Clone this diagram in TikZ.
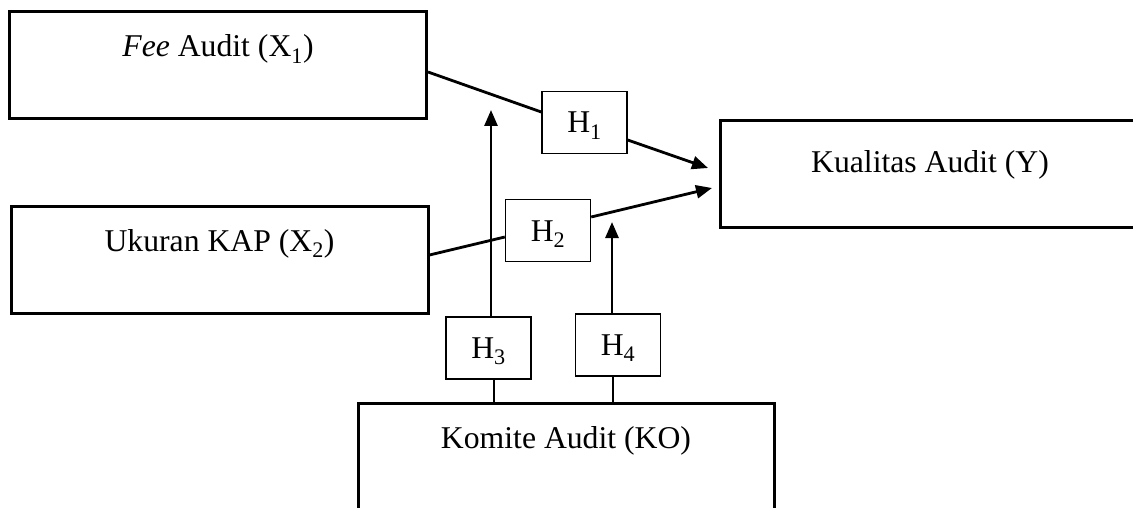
\documentclass[tikz,border=0pt]{standalone}
\usepackage{fontspec}
\setmainfont{Liberation Serif}
\usetikzlibrary{arrows.meta,positioning}

\begin{document}
\begin{tikzpicture}[x=1pt, y=-1pt, font=\fontsize{31.7}{38}\selectfont]

   \tikzstyle{var}=[rectangle, draw, line width=3pt, inner xsep=0pt, inner ysep=0pt, text height=45pt]
   \tikzstyle{hyp}=[rectangle, draw, line width=1.4pt, minimum width=85pt, minimum height=62pt, text height=21pt, text depth=0pt]
   \tikzstyle{link}=[line width=2.8pt]
   \tikzstyle{arr}=[line width=2.8pt, -{Triangle[length=16pt,width=13pt]}]

   \clip (0,0) rectangle (1133,508);

   \node[var, minimum width=417pt, minimum height=107pt, text depth=62pt] (fee) at (218,65.5) {\textit{Fee} Audit (X\textsubscript{1})};
   \node[var, minimum width=417pt, minimum height=107pt, text depth=62pt] (kap) at (219.5,259.5) {Ukuran KAP (X\textsubscript{2})};
   \node[var, minimum width=420pt, minimum height=106pt, text height=51pt, text depth=55pt] (kual) at (930,174) {Kualitas Audit (Y)};
   \node[var, minimum width=416pt, minimum height=115pt, text depth=70pt] (ko) at (566,460.5) {Komite Audit (KO)};

   \node[hyp] (h1) at (584.5,122.5) {H\textsubscript{1}};
   \node[hyp] (h2) at (548,230.5) {H\textsubscript{2}};
   \node[hyp] (h3) at (488.5,348) {H\textsubscript{3}};
   \node[hyp] (h4) at (618,345) {H\textsubscript{4}};

   % arrow ends
   \coordinate (t1) at (708,168);
   \coordinate (t2) at (712,188);
   \coordinate (t3) at (491,110);
   \coordinate (t4) at (612,222);

   \draw[link] ([yshift=-6.5pt]fee.east) -- ([yshift=10.5pt]h1.west);
   \draw[arr] ([yshift=-17.5pt]h1.east) -- (t1);
   \draw[link] ([yshift=4.5pt]kap.east) -- ([yshift=-6.5pt]h2.west);
   \draw[arr] ([yshift=13.5pt]h2.east) -- (t2);

   \draw[arr] ([xshift=2.5pt]h3.north) -- (t3);
   \draw[link] ([xshift=5.5pt]ko.north west -| h3.south) -- ([xshift=5.5pt]h3.south);
   \draw[arr] ([xshift=-6pt]h4.north) -- (t4);
   \draw[link] ([xshift=-5pt]ko.north west -| h4.south) -- ([xshift=-5pt]h4.south);
\end{tikzpicture}
\end{document}
